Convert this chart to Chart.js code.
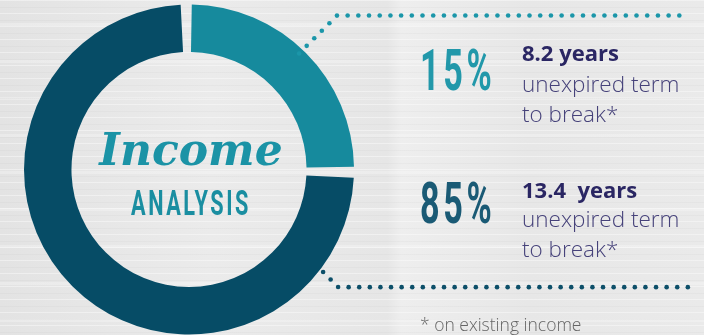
<!DOCTYPE html>
<html>
<head>
<meta charset="utf-8">
<script src="https://cdn.jsdelivr.net/npm/chart.js@4.4.0/dist/chart.umd.min.js"></script>
<style>
html,body{margin:0;padding:0;}
body{
  width:704px;height:335px;overflow:hidden;position:relative;
  background-color:#e7e7e7;
  background-image:
    repeating-linear-gradient(180deg, rgba(255,255,255,0.4) 0px, rgba(255,255,255,0.4) 1px, rgba(255,255,255,0) 1px, rgba(255,255,255,0) 7px, rgba(0,0,0,0.025) 7px, rgba(0,0,0,0.025) 8px, rgba(0,0,0,0) 8px, rgba(0,0,0,0) 13px),
    repeating-linear-gradient(180deg, rgba(255,255,255,0) 0px, rgba(255,255,255,0) 23px, rgba(255,255,255,0.25) 23px, rgba(255,255,255,0.25) 26px, rgba(0,0,0,0) 26px, rgba(0,0,0,0) 37px),
    linear-gradient(90deg, #e3e3e3 0%, #ebebeb 30%, #e6e6e6 55%, #eeeeee 57%, #e7e7e7 75%, #eaeaea 100%);
}
#chart{position:absolute;left:0;top:0;}
.t{position:absolute;white-space:pre;line-height:1;margin:0;}
.pct{font-family:Roboto,sans-serif;font-weight:700;font-size:57px;letter-spacing:6px;transform:scaleX(0.6);transform-origin:0 0;left:420px;}
#p1{top:42px;color:#2298aa;}
#p2{top:175px;color:#1a5a75;}
.yrs{font-family:"Open Sans",sans-serif;font-weight:700;font-size:22px;color:#2a2663;left:522px;}
.body{font-family:"Open Sans",sans-serif;font-weight:300;font-size:22.5px;color:#46427a;left:522px;}
#y1{top:40.5px;} #b1a{top:73px;} #b1b{top:103px;}
#y2{top:177.5px;} #b2a{top:208px;} #b2b{top:238px;}
#note{font-family:"Open Sans",sans-serif;font-weight:300;font-size:17.5px;color:#666;left:420px;top:316px;}
#title1{font-family:"DejaVu Serif",serif;font-style:italic;font-weight:700;font-size:44px;color:#1b93a6;left:0;width:382px;text-align:center;top:128px;}
#title2{font-family:Roboto,sans-serif;font-weight:700;font-size:35px;letter-spacing:4px;color:#1a8ea1;left:0;width:382px;text-align:center;top:185.5px;transform:scaleX(0.62);transform-origin:191px 0;}
</style>
</head>
<body>
<canvas id="chart" width="704" height="335"></canvas>
<div class="t" id="title1">Income</div>
<div class="t" id="title2">ANALYSIS</div>
<div class="t pct" id="p1"></div>
<div class="t pct" id="p2"></div>
<div class="t yrs" id="y1"></div>
<div class="t body" id="b1a"></div>
<div class="t body" id="b1b"></div>
<div class="t yrs" id="y2"></div>
<div class="t body" id="b2a"></div>
<div class="t body" id="b2b"></div>
<div class="t" id="note">* on existing income</div>
<script>
// ---- data ----
const segmentNames = ['Short term income', 'Long term income'];
const percentLabels = ['15%', '85%'];
const termLabels = ['8.2 years', '13.4  years'];
const termNotes = ['unexpired term', 'to break*'];
// angular share of the ring as it is drawn in the reference
const arcShares = [25, 75];
const segmentColors = ['#168a9d', '#064c66'];
const leaderColors = ['#1b96a9', '#0d4f69'];

document.getElementById('p1').textContent = percentLabels[0];
document.getElementById('p2').textContent = percentLabels[1];
document.getElementById('y1').textContent = termLabels[0];
document.getElementById('y2').textContent = termLabels[1];
document.getElementById('b1a').textContent = termNotes[0];
document.getElementById('b1b').textContent = termNotes[1];
document.getElementById('b2a').textContent = termNotes[0];
document.getElementById('b2b').textContent = termNotes[1];

const SPACING = 6;

function dotsAlong(ctx, pts, step, r, color) {
  ctx.fillStyle = color;
  let carry = 0;
  for (let i = 0; i < pts.length - 1; i++) {
    const [x0, y0] = pts[i], [x1, y1] = pts[i + 1];
    const len = Math.hypot(x1 - x0, y1 - y0);
    let d = carry;
    while (d <= len + 0.01) {
      const t = d / len;
      ctx.beginPath();
      ctx.arc(x0 + (x1 - x0) * t, y0 + (y1 - y0) * t, r, 0, Math.PI * 2);
      ctx.fill();
      d += step;
    }
    carry = d - len;
  }
}

const leaderPlugin = {
  id: 'leaders',
  afterDatasetsDraw(chart) {
    const arc = chart.getDatasetMeta(0).data[0];
    const cx = arc.x, cy = arc.y, R = arc.outerRadius + SPACING / 2;
    const ctx = chart.ctx;
    ctx.save();
    // upper leader (first segment)
    const a = -46.5 * Math.PI / 180;
    const s1 = [cx + (R - 5) * Math.cos(a), cy + (R - 5) * Math.sin(a)];
    const yTop = cy - R + 11;
    const c1 = [s1[0] + (s1[1] - yTop), yTop];
    dotsAlong(ctx, [s1, c1, [686, yTop]], 10.7, 2.3, leaderColors[0]);
    // lower leader (second segment)
    const c2 = [cx + 0.905 * R, cy + 0.713 * R];
    const s2 = [c2[0] - 15.2, c2[1] - 15.2];
    dotsAlong(ctx, [s2, c2, [688, c2[1]]], 10.6, 2.3, leaderColors[1]);
    ctx.restore();
  }
};

new Chart(document.getElementById('chart'), {
  type: 'doughnut',
  data: {
    labels: segmentNames,
    datasets: [{
      data: arcShares,
      backgroundColor: segmentColors,
      borderWidth: 0,
      spacing: SPACING,
      hoverOffset: 0
    }]
  },
  options: {
    responsive: false,
    animation: false,
    devicePixelRatio: 1,
    cutout: '70.7%',
    rotation: 0,
    layout: { padding: { left: 24, right: 350, top: 4, bottom: 0 } },
    plugins: { legend: { display: false }, tooltip: { enabled: false } },
    events: []
  },
  plugins: [leaderPlugin]
});
</script>
</body>
</html>
